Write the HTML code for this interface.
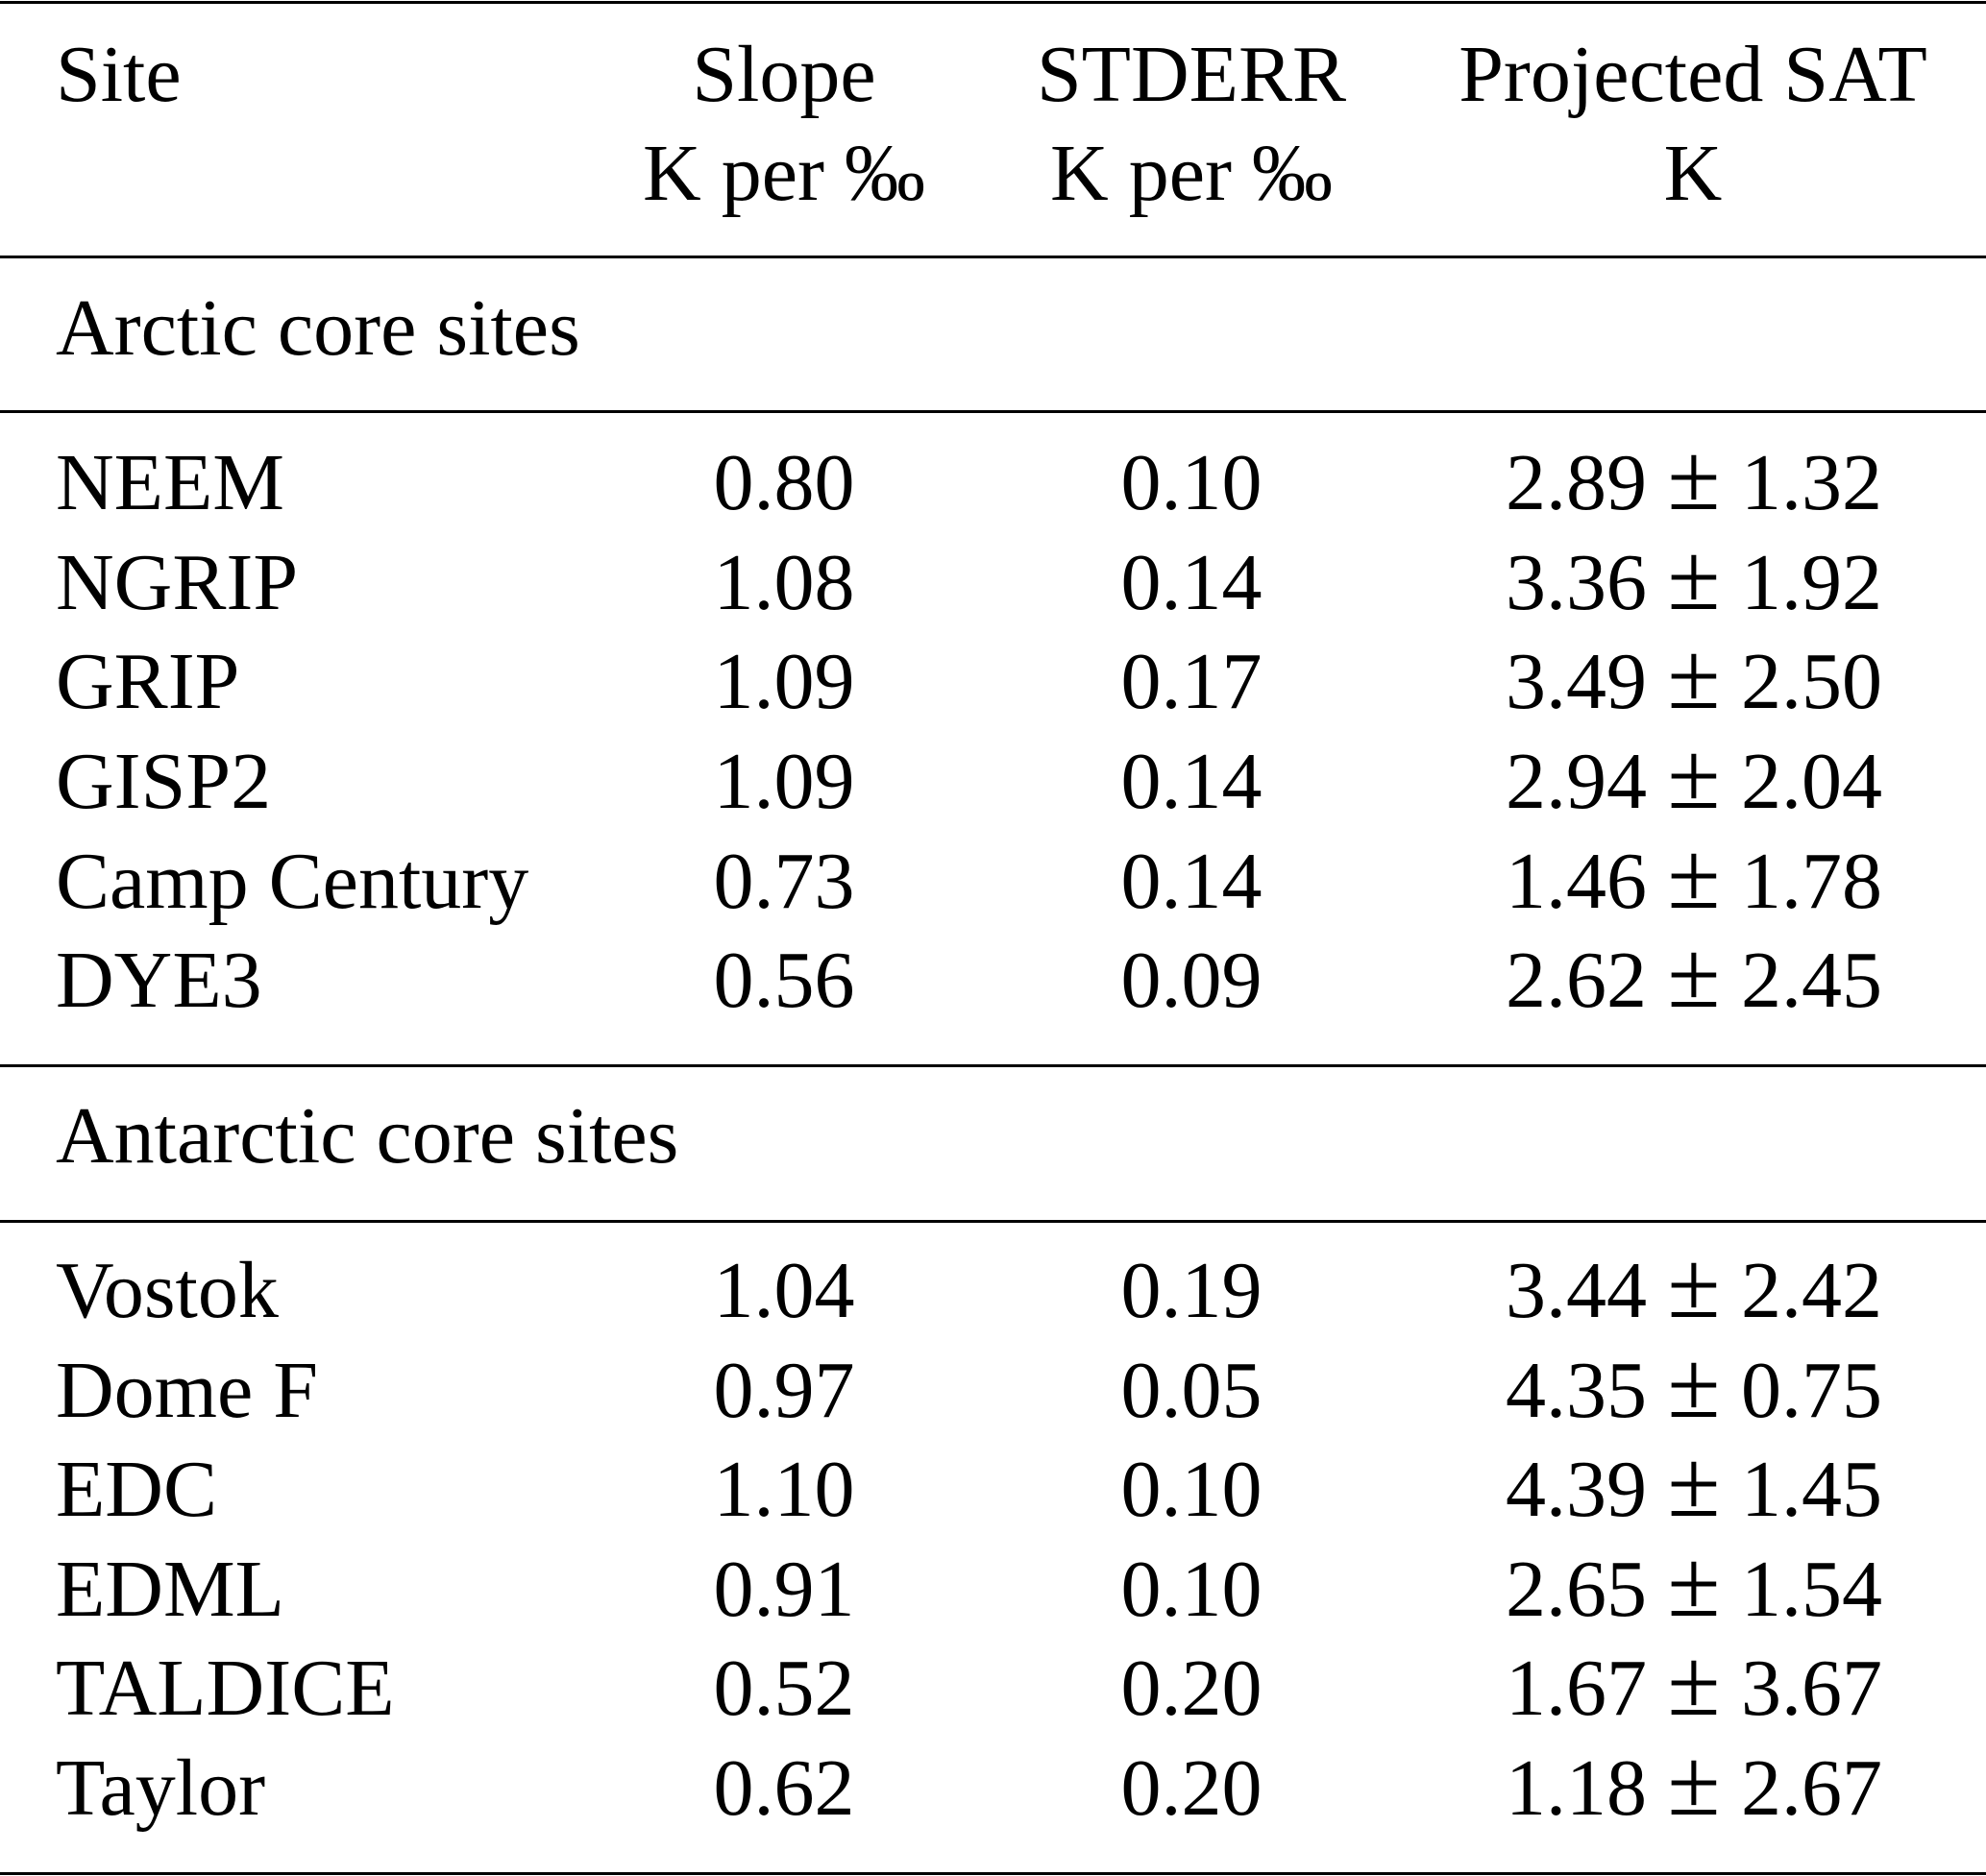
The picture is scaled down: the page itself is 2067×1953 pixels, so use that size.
<!DOCTYPE html>
<html><head><meta charset="utf-8"><style>
html,body{margin:0;padding:0;background:#fff;}
svg{display:block;}
text{font-family:"Liberation Serif","DejaVu Serif",serif;font-size:84px;fill:#000;}
.pm text{font-size:100px;}
</style></head><body>
<svg width="2067" height="1953" viewBox="0 0 2067 1953" xmlns="http://www.w3.org/2000/svg">
<g fill="#000">
<rect x="0" y="1" width="2067" height="3"/>
<rect x="0" y="266" width="2067" height="3"/>
<rect x="0" y="427" width="2067" height="3"/>
<rect x="0" y="1108" width="2067" height="3"/>
<rect x="0" y="1270" width="2067" height="3"/>
<rect x="0" y="1949" width="2067" height="3"/>
</g>
<text x="58" y="105">Site</text>
<g text-anchor="middle">
<text x="816" y="105">Slope</text>
<text x="816" y="208">K per ‰</text>
<text x="1240" y="105">STDERR</text>
<text x="1240" y="208">K per ‰</text>
<text x="1762" y="105">Projected SAT</text>
<text x="1762" y="208">K</text>
</g>
<text x="58" y="369">Arctic core sites</text>
<text x="58" y="1210">Antarctic core sites</text>
<g>
<text x="58" y="530">NEEM</text>
<text x="58" y="634">NGRIP</text>
<text x="58" y="737">GRIP</text>
<text x="58" y="841">GISP2</text>
<text x="58" y="945">Camp Century</text>
<text x="58" y="1048">DYE3</text>
<text x="58" y="1371">Vostok</text>
<text x="58" y="1475">Dome F</text>
<text x="58" y="1578">EDC</text>
<text x="58" y="1682">EDML</text>
<text x="58" y="1785">TALDICE</text>
<text x="58" y="1889">Taylor</text>
</g>
<g text-anchor="middle">
<text x="816" y="530">0.80</text><text x="1240" y="530">0.10</text>
<text x="816" y="634">1.08</text><text x="1240" y="634">0.14</text>
<text x="816" y="737">1.09</text><text x="1240" y="737">0.17</text>
<text x="816" y="841">1.09</text><text x="1240" y="841">0.14</text>
<text x="816" y="945">0.73</text><text x="1240" y="945">0.14</text>
<text x="816" y="1048">0.56</text><text x="1240" y="1048">0.09</text>
<text x="816" y="1371">1.04</text><text x="1240" y="1371">0.19</text>
<text x="816" y="1475">0.97</text><text x="1240" y="1475">0.05</text>
<text x="816" y="1578">1.10</text><text x="1240" y="1578">0.10</text>
<text x="816" y="1682">0.91</text><text x="1240" y="1682">0.10</text>
<text x="816" y="1785">0.52</text><text x="1240" y="1785">0.20</text>
<text x="816" y="1889">0.62</text><text x="1240" y="1889">0.20</text>
</g>
<g text-anchor="end">
<text x="1714" y="530">2.89</text>
<text x="1714" y="634">3.36</text>
<text x="1714" y="737">3.49</text>
<text x="1714" y="841">2.94</text>
<text x="1714" y="945">1.46</text>
<text x="1714" y="1048">2.62</text>
<text x="1714" y="1371">3.44</text>
<text x="1714" y="1475">4.35</text>
<text x="1714" y="1578">4.39</text>
<text x="1714" y="1682">2.65</text>
<text x="1714" y="1785">1.67</text>
<text x="1714" y="1889">1.18</text>
</g>
<g text-anchor="middle" class="pm">
<text x="1763" y="530">±</text>
<text x="1763" y="634">±</text>
<text x="1763" y="737">±</text>
<text x="1763" y="841">±</text>
<text x="1763" y="945">±</text>
<text x="1763" y="1048">±</text>
<text x="1763" y="1371">±</text>
<text x="1763" y="1475">±</text>
<text x="1763" y="1578">±</text>
<text x="1763" y="1682">±</text>
<text x="1763" y="1785">±</text>
<text x="1763" y="1889">±</text>
</g>
<g>
<text x="1812" y="530">1.32</text>
<text x="1812" y="634">1.92</text>
<text x="1812" y="737">2.50</text>
<text x="1812" y="841">2.04</text>
<text x="1812" y="945">1.78</text>
<text x="1812" y="1048">2.45</text>
<text x="1812" y="1371">2.42</text>
<text x="1812" y="1475">0.75</text>
<text x="1812" y="1578">1.45</text>
<text x="1812" y="1682">1.54</text>
<text x="1812" y="1785">3.67</text>
<text x="1812" y="1889">2.67</text>
</g>
</svg>
</body></html>
